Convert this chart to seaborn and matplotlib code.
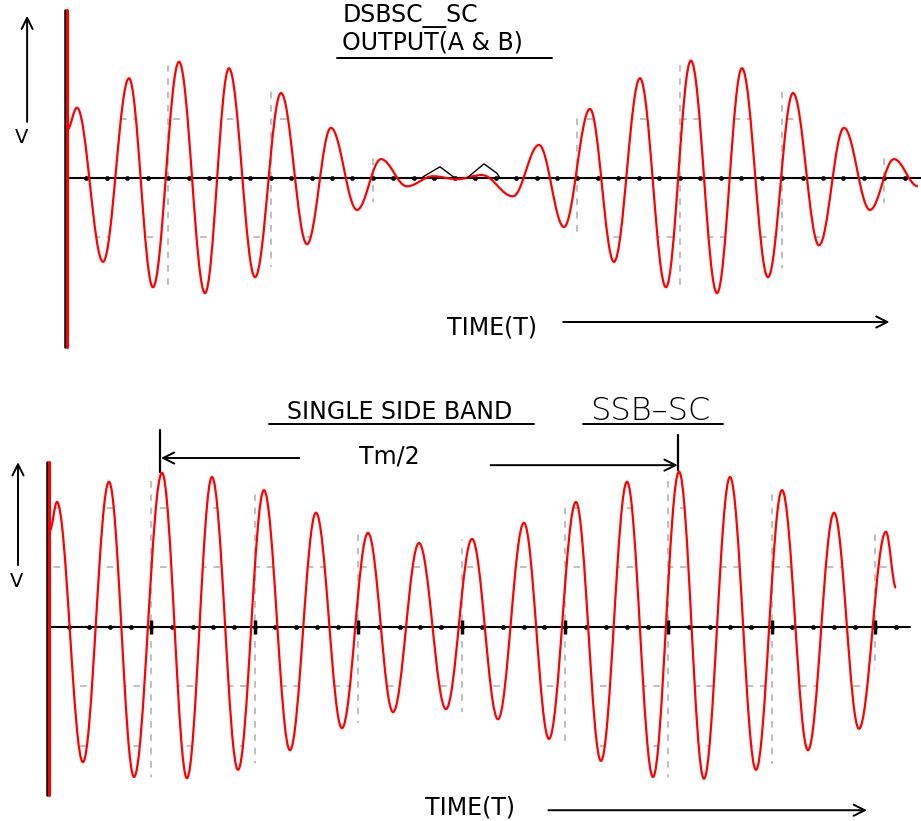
import matplotlib
matplotlib.use("Agg")
import matplotlib.pyplot as plt
import numpy as np
import seaborn as sns
from matplotlib.path import Path
from matplotlib.patches import PathPatch

# Values. Time is in grid divisions (one dashed
# vertical line per division), volts in grid divisions (dashed lines at +-1, +-2).

# DSBSC output (top): start point, then every peak / trough in order
DSB_T = [0.01, 0.108, 0.362, 0.616, 0.850, 1.105, 1.359, 1.593, 1.848, 2.102,
         2.356, 2.590, 2.845, 3.079, 3.333, 3.588, 3.822, 4.066, 4.369, 4.624,
         4.868, 5.122, 5.357, 5.611, 5.865, 6.109, 6.364, 6.608, 6.862, 7.107,
         7.361, 7.605, 7.859, 8.094, 8.328]
DSB_V = [0.81, 1.19, -1.42, 1.69, -1.85, 1.97, -1.95, 1.86, -1.68, 1.44,
         -1.12, 0.85, -0.54, 0.32, -0.14, 0.03, -0.02, 0.05, -0.31, 0.56,
         -0.83, 1.17, -1.42, 1.69, -1.85, 1.99, -1.95, 1.86, -1.68, 1.44,
         -1.14, 0.85, -0.54, 0.32, -0.14]

# the two small black marks drawn at the envelope null
NULL_MARKS = [
    ([3.490, 3.656, 3.802], [0.02, 0.19, 0.0]),
    ([3.920, 4.086, 4.213, 4.242], [0.0, 0.24, 0.08, 0.0]),
]

# SSB-SC output (bottom)
SSB_T = [0.019, 0.087, 0.338, 0.590, 0.832, 1.103, 1.344, 1.586, 1.838, 2.089,
         2.340, 2.592, 2.843, 3.095, 3.337, 3.588, 3.849, 4.101, 4.352, 4.603,
         4.845, 5.106, 5.348, 5.600, 5.851, 6.103, 6.344, 6.596, 6.847, 7.099,
         7.350, 7.602, 7.843, 8.104, 8.201]
SSB_V = [1.63, 2.10, -2.27, 2.44, -2.52, 2.59, -2.54, 2.52, -2.40, 2.30,
         -2.07, 1.92, -1.70, 1.58, -1.43, 1.41, -1.38, 1.48, -1.55, 1.75,
         -1.88, 2.10, -2.25, 2.44, -2.52, 2.61, -2.55, 2.52, -2.40, 2.30,
         -2.07, 1.92, -1.71, 1.60, 0.66]

GRID_LEVELS = [-2, -1, 1, 2]
MAJOR_DIVS = [1, 2, 3, 4, 5, 6, 7, 8]

RED = "#ff0000"
GRID_GRAY = "#b4b4b4"
K = 0.3634  # bezier handle length that makes a half-cosine between extrema
LABEL_SIZE = 17


def wave_path(ts, vs, closed=False):
    """Smooth curve through the extrema (horizontal tangent at each one)."""
    verts, codes = [], []
    if closed:
        verts += [(ts[0], 0.0), (ts[0], vs[0])]
        codes += [Path.MOVETO, Path.LINETO]
    else:
        verts.append((ts[0], vs[0]))
        codes.append(Path.MOVETO)
    for i in range(len(ts) - 1):
        dt = ts[i + 1] - ts[i]
        verts += [(ts[i] + K * dt, vs[i]), (ts[i + 1] - K * dt, vs[i + 1]),
                  (ts[i + 1], vs[i + 1])]
        codes += [Path.CURVE4] * 3
    if closed:
        verts += [(ts[-1], 0.0), (ts[0], 0.0)]
        codes += [Path.LINETO, Path.CLOSEPOLY]
    return Path(verts, codes)


def envelope_path(ts, vs):
    top = [(t, v) for t, v in zip(ts, vs) if v > 0]
    bot = [(t, v) for t, v in zip(ts, vs) if v < 0]
    pts = top + bot[::-1]
    return Path(pts + [pts[0]], closed=True)


def draw_panel(ax, ts, vs, axis_span, line_end, major_ticks):
    # partial dashed grid, only visible inside the trace like on the scope
    area = wave_path(ts, vs, closed=True)
    env = envelope_path(ts, vs)
    for lv in GRID_LEVELS:
        ln = ax.axhline(lv, color=GRID_GRAY, lw=1.2, ls=(0, (4, 4)), zorder=1)
        ln.set_clip_path(area, ax.transData)
    for d in MAJOR_DIVS:
        ln = ax.axvline(d, color=GRID_GRAY, lw=1.2, ls=(0, (4, 4)), zorder=1)
        ln.set_clip_path(env, ax.transData)

    # time axis with dots every 1/5 division
    sns.lineplot(x=[0, line_end], y=[0, 0], color="black", lw=1.5, ax=ax, zorder=2)
    dots = np.arange(0.2, line_end, 0.2)
    sns.scatterplot(x=dots, y=np.zeros_like(dots), s=10, color="black",
                    edgecolor=None, ax=ax, zorder=2)
    if major_ticks:
        sns.scatterplot(x=MAJOR_DIVS, y=[0] * len(MAJOR_DIVS), marker="|", s=90,
                        linewidth=2.5, color="black", ax=ax, zorder=2)

    # trace
    ax.add_patch(PathPatch(wave_path(ts, vs), fill=False, edgecolor=RED,
                           lw=1.6, zorder=3))

    # vertical axis: black with a red line beside it
    ax.plot([-0.014, -0.014], axis_span, color="black", lw=1.8, zorder=4)
    ax.plot([0.012, 0.012], axis_span, color=RED, lw=2.2, zorder=4)


def arrow(ax, head, tail, lw=1.4):
    ax.annotate("", xy=head, xytext=tail,
                arrowprops=dict(arrowstyle="->", lw=lw, color="black",
                                mutation_scale=20, shrinkA=0, shrinkB=0))


sns.set_theme(style="white")
plt.rcParams["font.family"] = ["DejaVu Sans"]
plt.rcParams["text.color"] = "black"

fig = plt.figure(figsize=(9.21, 8.21), dpi=100)
ax1 = fig.add_axes([0, 0.5554, 1, 0.4446])
ax2 = fig.add_axes([0, 0, 1, 0.5554])

# ---- top panel: DSBSC
draw_panel(ax1, DSB_T, DSB_V, [2.85, -2.86], 8.36, major_ticks=False)
for mt, mv in NULL_MARKS:
    sns.lineplot(x=mt, y=mv, sort=False, color="black", lw=1.0, ax=ax1, zorder=3)
ax1.set_xlim(-0.645, 8.358)
ax1.set_ylim(-3.169, 3.017)
ax1.text(2.70, 2.74, "DSBSC__SC", fontsize=LABEL_SIZE, va="center", ha="left")
ax1.text(2.70, 2.30, "OUTPUT(A & B)", fontsize=LABEL_SIZE, va="center", ha="left")
ax1.plot([2.65, 4.75], [2.03, 2.03], color="black", lw=1.4)
ax1.text(3.72, -2.53, "TIME(T)", fontsize=LABEL_SIZE, va="center", ha="left")
arrow(ax1, (8.05, -2.44), (4.86, -2.44))
arrow(ax1, (-0.38, 2.75), (-0.38, 0.95))
ax1.text(-0.43, 0.68, "V", fontsize=14, va="center", ha="center")
ax1.axis("off")

# ---- bottom panel: SSB-SC
draw_panel(ax2, SSB_T, SSB_V, [2.77, -2.82], 8.34, major_ticks=True)
ax2.set_xlim(-0.464, 8.443)
ax2.set_ylim(-3.261, 4.403)
ax2.text(3.40, 3.62, "SINGLE SIDE BAND", fontsize=LABEL_SIZE, va="center", ha="center")
ax2.plot([2.14, 4.70], [3.41, 3.41], color="black", lw=1.4)
ax2.text(5.82, 3.63, "SSB\u2013SC", fontsize=23, fontweight="light",
         va="center", ha="center")
ax2.plot([5.17, 6.53], [3.41, 3.41], color="black", lw=1.4)
# Tm/2 marker between two envelope maxima
ax2.plot([1.083, 1.083], [3.31, 2.61], color="black", lw=1.6)
arrow(ax2, (1.093, 2.84), (2.43, 2.84))
ax2.text(3.30, 2.86, "Tm/2", fontsize=LABEL_SIZE, va="center", ha="center")
arrow(ax2, (6.09, 2.72), (4.28, 2.72))
ax2.plot([6.09, 6.09], [3.23, 2.64], color="black", lw=1.6)
ax2.text(3.65, -3.03, "TIME(T)", fontsize=LABEL_SIZE, va="center", ha="left")
arrow(ax2, (7.92, -3.08), (4.84, -3.08))
arrow(ax2, (-0.29, 2.77), (-0.29, 1.04))
ax2.text(-0.30, 0.76, "V", fontsize=14, va="center", ha="center")
ax2.axis("off")

fig.savefig("out.png", dpi=100)
